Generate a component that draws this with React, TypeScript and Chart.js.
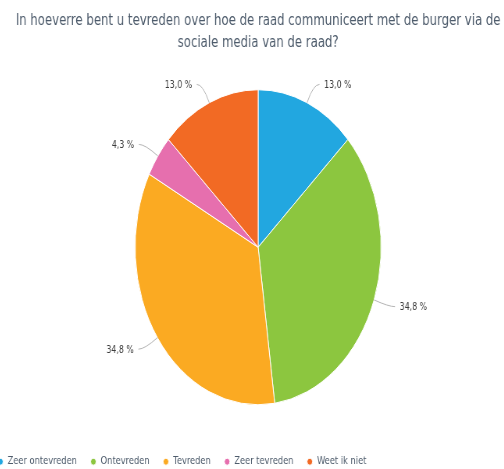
import React, { useEffect, useRef } from "react";
import { Chart, registerables } from "chart.js";

Chart.register(...registerables);

const titleLines = [
  "In hoeverre bent u tevreden over hoe de raad communiceert met de burger via de",
  "sociale media van de raad?",
];
const categories = ["Zeer ontevreden", "Ontevreden", "Tevreden", "Zeer tevreden", "Weet ik niet"];
const values = [13.0, 34.8, 34.8, 4.3, 13.0];
const colors = ["#22a7e0", "#8cc63f", "#fbaa22", "#e66fae", "#f26a24"];

const SX = 0.781;
const W = 702;
const H = 477;
const LEFT = -16.4;

const fmt = (v: number) => v.toFixed(1).replace(".", ",") + " %";

const leaderPlugin = {
  id: "leaders",
  afterDatasetsDraw(chart: any) {
    const ctx = chart.ctx;
    const meta = chart.getDatasetMeta(0);
    ctx.save();
    ctx.font = "10px 'DejaVu Sans'";
    ctx.textBaseline = "middle";
    meta.data.forEach((arc: any, i: number) => {
      const { x, y, startAngle, endAngle, outerRadius } = arc.getProps(
        ["x", "y", "startAngle", "endAngle", "outerRadius"],
        true
      );
      const mid = (startAngle + endAngle) / 2;
      const c = Math.cos(mid);
      const s = Math.sin(mid);
      const p0x = x + c * outerRadius;
      const p0y = y + s * outerRadius;
      const ex = x + c * (outerRadius + 20);
      const ey = y + s * (outerRadius + 20);
      const sign = c >= 0 ? 1 : -1;
      const p2x = ex + sign * 8;
      ctx.strokeStyle = "#b4b4b4";
      ctx.lineWidth = 1;
      ctx.beginPath();
      ctx.moveTo(p0x, p0y);
      ctx.quadraticCurveTo(ex, ey, p2x, ey);
      ctx.stroke();
      ctx.fillStyle = "#3c3c3c";
      ctx.textAlign = sign > 0 ? "left" : "right";
      ctx.fillText(fmt(values[i]), ex + sign * 14, ey + 1);
    });
    ctx.restore();
  },
};

export default function App() {
  const ref = useRef<HTMLCanvasElement>(null);
  useEffect(() => {
    if (!ref.current) return;
    const chart = new Chart(ref.current, {
      type: "pie",
      data: {
        labels: categories,
        datasets: [
          {
            data: values,
            backgroundColor: colors,
            borderColor: "#ffffff",
            borderWidth: 1,
            radius: 157.5,
          } as any,
        ],
      },
      options: {
        responsive: false,
        animation: false,
        layout: { padding: 0 },
        plugins: {
          title: {
            display: true,
            text: titleLines,
            color: "#4d5b6b",
            font: { family: "'DejaVu Sans'", size: 15, weight: "normal", lineHeight: 1.47 },
            padding: { top: 10.5, bottom: 0.5 },
          },
          legend: {
            position: "bottom",
            align: "start",
            labels: {
              usePointStyle: true,
              pointStyle: "circle",
              boxWidth: 8,
              boxHeight: 5,
              padding: 17,
              color: "#4d5b6b",
              font: { family: "'DejaVu Sans'", size: 10.6 },
            },
          },
          tooltip: { enabled: false },
        },
      },
      plugins: [leaderPlugin],
    });
    return () => chart.destroy();
  }, []);
  return (
    <div
      style={{
        position: "fixed",
        left: 0,
        top: 0,
        width: 504,
        height: 469,
        overflow: "hidden",
        background: "#ffffff",
      }}
    >
      <div
        style={{
          position: "absolute",
          left: LEFT,
          top: 0,
          width: W,
          height: H,
          transform: `scaleX(${SX})`,
          transformOrigin: "0 0",
        }}
      >
        <canvas ref={ref} width={W} height={H} />
      </div>
    </div>
  );
}
